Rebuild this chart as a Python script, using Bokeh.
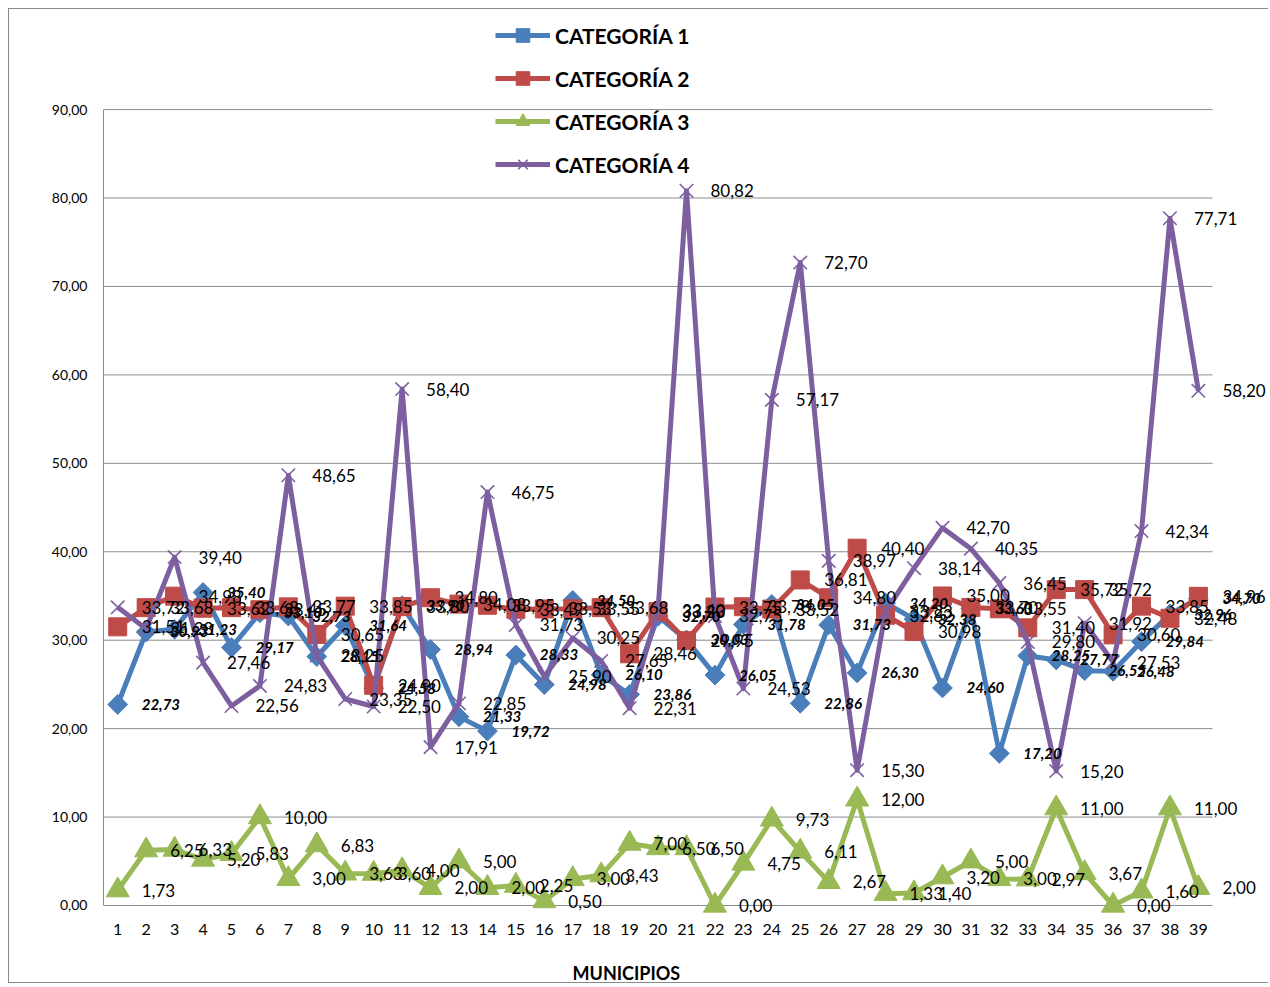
import numpy as np
from bokeh.plotting import figure
from bokeh.models import Range1d, FixedTicker, Legend, LegendItem, Title
from bokeh.core.properties import value
from bokeh.embed import file_html
from bokeh.resources import INLINE

municipios = list(range(1, 40))

cat1 = [22.73, 30.93, 31.23, 35.40, 29.17, 33.10, 32.73, 28.15, 31.64, 24.58,
        33.90, 28.94, 21.33, 19.72, 28.33, 24.98, 34.50, 26.10, 23.86, 32.70,
        30.03, 26.05, 31.78, 34.05, 22.86, 31.73, 26.30, 34.20, 32.38, 24.60,
        33.60, 17.20, 28.25, 27.77, 26.55, 26.48, 29.84, 32.96, 34.70]

cat2 = [31.51, 33.68, 34.98, 33.62, 33.68, 33.45, 33.77, 30.65, 33.85, 24.90,
        33.80, 34.80, 34.08, 33.95, 33.49, 33.53, 33.55, 33.68, 28.46, 33.23,
        29.95, 33.75, 33.78, 33.52, 36.81, 34.80, 40.40, 32.82, 30.98, 35.00,
        33.70, 33.55, 31.40, 35.72, 35.72, 30.60, 33.85, 32.48, 34.96]

cat3 = [1.73, 6.25, 6.33, 5.20, 5.83, 10.00, 3.00, 6.83, 3.63, 3.60,
        4.00, 2.00, 5.00, 2.00, 2.25, 0.50, 3.00, 3.43, 7.00, 6.50,
        6.50, 0.00, 4.75, 9.73, 6.11, 2.67, 12.00, 1.33, 1.40, 3.20,
        5.00, 3.00, 2.97, 11.00, 3.67, 0.00, 1.60, 11.00, 2.00]

cat4 = [33.72, 31.28, 39.40, 27.46, 22.56, 24.83, 48.65, 28.25, 23.35, 22.50,
        58.40, 17.91, 22.85, 46.75, 31.73, 25.90, 30.25, 27.65, 22.31, 33.40,
        80.82, 32.75, 24.53, 57.17, 72.70, 38.97, 15.30, 33.23, 38.14, 42.70,
        40.35, 36.45, 29.80, 15.20, 31.92, 27.53, 42.34, 77.71, 58.20]

series_names = ["CATEGORÍA 1", "CATEGORÍA 2", "CATEGORÍA 3", "CATEGORÍA 4"]
y_ticks = [0, 10, 20, 30, 40, 50, 60, 70, 80, 90]
x_axis_title = "MUNICIPIOS"

colors = ["#4A7EBB", "#BE4B48", "#98B954", "#7D5FA0"]
FONT = "Lato"


def fmt(v):
    return f"{v:.2f}".replace(".", ",")


p = figure(width=1260, height=975,
           x_range=Range1d(0.5, 41.50), y_range=Range1d(-1.47, 100.75),
           output_backend="svg", toolbar_location=None,
           min_border_left=94, min_border_right=0, min_border_top=5, min_border_bottom=66)
p.styles = {"margin-left": "8px", "margin-top": "8px",
            "border-left": "1px solid #8a8a8a", "border-top": "1px solid #8a8a8a",
            "border-bottom": "1px solid #8a8a8a"}
p.outline_line_color = None
p.xgrid.visible = False
p.ygrid.visible = False
p.background_fill_color = "white"
p.border_fill_color = "white"

# horizontal gridlines spanning the category band only
p.segment(x0=[municipios[0] - 0.5] * len(y_ticks), x1=[municipios[-1] + 0.5] * len(y_ticks),
          y0=y_ticks, y1=y_ticks, line_color="#8c8c8c", line_width=1)

# y axis
p.yaxis.ticker = FixedTicker(ticks=y_ticks)
p.yaxis.bounds = (0, 90)
p.yaxis.major_label_overrides = {t: fmt(t) for t in y_ticks}
p.yaxis.axis_line_color = "#8c8c8c"
p.yaxis.major_tick_line_color = None
p.yaxis.minor_tick_line_color = None
p.yaxis.major_tick_out = 0
p.yaxis.major_label_standoff = 16
p.yaxis.major_label_text_font = FONT
p.yaxis.major_label_text_font_size = "14px"
p.yaxis.major_label_text_color = "black"

# x axis
p.xaxis.ticker = FixedTicker(ticks=municipios)
p.xaxis.axis_line_color = None
p.xaxis.major_tick_line_color = None
p.xaxis.minor_tick_line_color = None
p.xaxis.major_tick_out = 0
p.xaxis.major_label_standoff = 5
p.xaxis.major_label_text_font = FONT
p.xaxis.major_label_text_font_size = "16px"
p.xaxis.major_label_text_color = "black"

p.add_layout(Title(text="\n" + x_axis_title, align="left", offset=469, standoff=0,
                   text_font=FONT, text_font_size="18px", text_font_style="bold",
                   text_color="black"), "below")

data = [cat1, cat2, cat3, cat4]
items = []
for i, (vals, name, col) in enumerate(zip(data, series_names, colors)):
    lr = p.line(municipios, vals, line_color=col, line_width=5, line_join="round")
    if i == 0:
        sr = p.scatter(municipios, vals, marker="square", angle=np.pi / 4, size=14,
                       fill_color=col, line_color=col)
    elif i == 1:
        sr = p.scatter(municipios, vals, marker="square", size=18,
                       fill_color=col, line_color=col)
    elif i == 2:
        sr = p.scatter(municipios, vals, marker="triangle", size=23,
                       fill_color=col, line_color=col)
    else:
        sr = p.scatter(municipios, vals, marker="x", size=19,
                       line_color=col, line_width=1.6)
    items.append(LegendItem(label=name, renderers=[lr, sr]))

# data labels (drawn above all series)
for i, vals in enumerate(data):
    if i == 0:
        style, size = "bold italic", "15px"
    else:
        style, size = "normal", "17px"
    p.text(municipios, vals, text=[fmt(v) for v in vals], x_offset=24,
           text_align="left", text_baseline="middle", text_font=value(FONT),
           text_font_size=size, text_font_style=style, text_color="black")

legend = Legend(items=items, location=(392, 737), orientation="vertical",
                border_line_color=None, background_fill_alpha=0,
                padding=0, margin=0, spacing=9, glyph_width=55, glyph_height=34,
                label_height=34, label_standoff=5, label_text_font=FONT,
                label_text_font_style="bold", label_text_font_size="21px",
                label_text_color="black")
p.add_layout(legend)

open("out.html", "w").write(file_html(p, INLINE))
